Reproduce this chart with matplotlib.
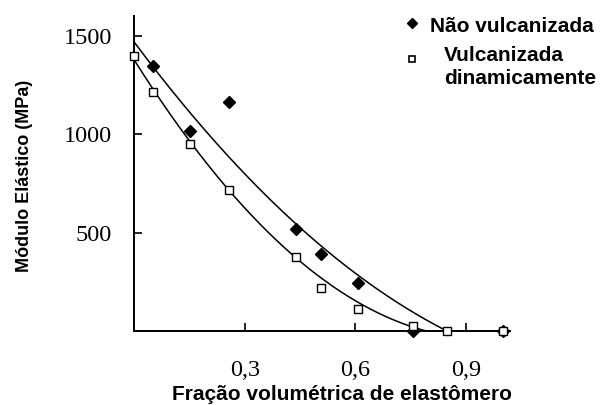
import numpy as np
import matplotlib
matplotlib.use("Agg")
import matplotlib.pyplot as plt
from matplotlib.lines import Line2D

# Measured elastic modulus (MPa) vs elastomer volume fraction
x_nao = [0.05, 0.15, 0.257, 0.438, 0.508, 0.607, 0.757, 1.0]
e_nao = [1345, 1015, 1162, 518, 391, 244, 0, 0]

x_vulc = [0.0, 0.05, 0.15, 0.257, 0.44, 0.508, 0.607, 0.757, 0.848, 1.0]
e_vulc = [1396, 1213, 949, 716, 376, 218, 112, 25, 0, 0]

# Quadratic trend-line coefficients (highest power first)
fit_nao = [914, -2505, 1467]
fit_vulc = [1562, -2975, 1376]

x_ticks = [0.3, 0.6, 0.9]
x_ticklabels = ["0,3", "0,6", "0,9"]
y_ticks = [500, 1000, 1500]
y_ticklabels = ["500", "1000", "1500"]

serif = "Liberation Serif"
sans = "Liberation Sans"

fig = plt.figure(figsize=(6.0, 4.05), dpi=100)
ax = fig.add_axes([0.224, 0.183, 0.626, 0.777])

xs = np.linspace(0, 1.0, 400)
for coef in (fit_nao, fit_vulc):
    ys = np.clip(np.polyval(coef, xs), 0, None)
    ax.plot(xs, ys, color="black", lw=1.1, zorder=2)

ax.plot(x_nao, e_nao, linestyle="none", marker="D", markersize=6,
        color="black", zorder=3, clip_on=False)
ax.plot(x_vulc, e_vulc, linestyle="none", marker="s", markersize=6,
        markerfacecolor="white", markeredgecolor="black", markeredgewidth=1.0,
        zorder=4, clip_on=False)

ax.set_xlim(0, 1.02)
ax.set_ylim(0, 1600)
for side in ("top", "right"):
    ax.spines[side].set_visible(False)
for side in ("left", "bottom"):
    ax.spines[side].set_linewidth(1.4)

ax.set_xticks(x_ticks)
ax.set_xticklabels(x_ticklabels, fontfamily=serif, fontsize=17.5)
ax.set_yticks(y_ticks)
ax.set_yticklabels(y_ticklabels, fontfamily=serif, fontsize=17.5)
ax.tick_params(axis="x", direction="in", length=6, width=1.2, pad=21)
ax.tick_params(axis="y", direction="in", length=6, width=1.2, pad=16)

fig.text(342 / 600, 1 - 395 / 405, "Fração volumétrica de elastômero",
         ha="center", va="center", fontfamily=sans, fontweight="bold",
         fontsize=15)
fig.text(25 / 600, 1 - 176 / 405, "Módulo Elástico (MPa)", rotation=90,
         ha="center", va="center", fontfamily=sans, fontweight="bold",
         fontsize=13)

# Legend
fig.add_artist(Line2D([412 / 600], [1 - 23 / 405], transform=fig.transFigure,
                      marker="D", markersize=5, color="black", linestyle="none"))
fig.add_artist(Line2D([412 / 600], [1 - 59 / 405], transform=fig.transFigure,
                      marker="s", markersize=5, markerfacecolor="white",
                      markeredgecolor="black", markeredgewidth=1.2,
                      linestyle="none"))
fig.text(430 / 600, 1 - 26 / 405, "Não vulcanizada", ha="left", va="center",
         fontfamily=sans, fontweight="bold", fontsize=15)
fig.text(444 / 600, 1 - 67 / 405, "Vulcanizada\ndinamicamente", ha="left",
         va="center", fontfamily=sans, fontweight="bold", fontsize=15,
         linespacing=1.3)

fig.savefig("out.png", dpi=100)
